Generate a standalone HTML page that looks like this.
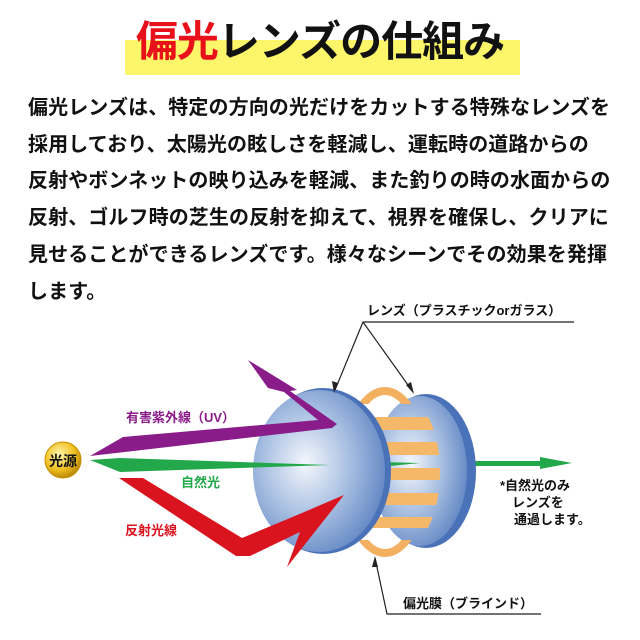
<!DOCTYPE html>
<html><head><meta charset="utf-8"><style>
html,body{margin:0;padding:0;background:#fff;}
body{width:640px;height:640px;position:relative;overflow:hidden;font-family:"Liberation Sans","Noto Sans CJK JP",sans-serif;}
.bar{position:absolute;left:125px;top:40px;width:395px;height:35px;background:#fdf66a;}
.title{position:absolute;left:0;width:640px;top:14px;text-align:center;font-size:42px;font-weight:bold;line-height:56px;color:#111;letter-spacing:-1px;}
.title span{color:#e8101a;}
.body{position:absolute;left:28px;top:90px;font-size:20px;font-weight:bold;line-height:36.7px;color:#111;white-space:nowrap;letter-spacing:0.1px;}
svg{position:absolute;left:0;top:0;}
</style></head><body>
<div class="bar"></div>
<div class="title"><span>偏光</span>レンズの仕組み</div>
<div class="body">偏光レンズは、特定の方向の光だけをカットする特殊なレンズを<br>採用しており、太陽光の眩しさを軽減し、運転時の道路からの<br>反射やボンネットの映り込みを軽減、また釣りの時の水面からの<br>反射、ゴルフ時の芝生の反射を抑えて、視界を確保し、クリアに<br>見せることができるレンズです。様々なシーンでその効果を発揮<br>します。</div>
<svg width="640" height="640" viewBox="0 0 640 640">
<defs>
<radialGradient id="lens" cx="0.4" cy="0.45" r="0.65">
<stop offset="0" stop-color="#f4f7fc"/><stop offset="0.5" stop-color="#a9c0e2"/><stop offset="1" stop-color="#5d83c2"/></radialGradient>
<radialGradient id="gold" cx="0.4" cy="0.35" r="0.7">
<stop offset="0" stop-color="#fff6b0"/><stop offset="0.6" stop-color="#f0c020"/><stop offset="1" stop-color="#b07d00"/></radialGradient>
<clipPath id="film"><ellipse cx="400" cy="472" rx="40" ry="78"/></clipPath>
<clipPath id="ends"><rect x="0" y="380" width="640" height="24"/><rect x="0" y="540" width="640" height="30"/></clipPath>
</defs>
<polygon points="470,461 540,461 540,457 572,463 540,469 540,466 470,466" fill="#22a84a"/>
<ellipse cx="426" cy="471" rx="50" ry="77" fill="#4a72b8"/>
<ellipse cx="420" cy="471" rx="47" ry="75" fill="url(#lens)"/>
<polygon points="380,462 420,463 380,467" fill="#22a84a"/>
<ellipse cx="385" cy="472" rx="40" ry="81" fill="none" stroke="#f2b060" stroke-width="8" clip-path="url(#ends)"/>
<g clip-path="url(#film)">
<g fill="#f5b868">
<rect x="360" y="417" width="80" height="13"/>
<rect x="360" y="442" width="80" height="13"/>
<rect x="360" y="468" width="80" height="12"/>
<rect x="360" y="493" width="80" height="12"/>
<rect x="360" y="517" width="80" height="11"/>
</g>
</g>
<ellipse cx="323" cy="471" rx="68" ry="83" fill="#4a72b8"/>
<ellipse cx="319" cy="471" rx="66" ry="81" fill="url(#lens)"/>
<polygon points="90,456 123,437 318,420 284,392 268,388 248,360 297,390 290,391 337,424 332,428" fill="#8a1c8a"/>
<polygon points="90,460 120,458 330,465 120,472" fill="#22a84a"/>
<polygon points="119,478 143,478 242,538 302,513 344,495 287,567 300,532 250,556 236,556" fill="#d9141e"/>
<circle cx="63" cy="460" r="18" fill="url(#gold)" stroke="#c89000"/>
<text x="63" y="466" font-size="14" font-weight="bold" text-anchor="middle" fill="#111" font-family="Liberation Sans,Noto Sans CJK JP,sans-serif">光源</text>
<g font-family="Liberation Sans,Noto Sans CJK JP,sans-serif" font-weight="bold" font-size="13">
<text x="126" y="422" fill="#8a1c8a">有害紫外線（UV）</text>
<text x="181" y="487" fill="#22a84a">自然光</text>
<text x="125" y="535" fill="#d9141e">反射光線</text>
<text x="500" y="490" fill="#111">*自然光のみ</text>
<text x="512" y="507" fill="#111">レンズを</text>
<text x="514" y="524" fill="#111">通過します。</text>
<text x="367" y="315" fill="#111">レンズ（プラスチックorガラス）</text>
<text x="403" y="608" fill="#111">偏光膜（ブラインド）</text>
</g>
<g stroke="#222" stroke-width="1.2" fill="none">
<polyline points="574,322 363,322 335,390"/>
<line x1="363" y1="322" x2="413" y2="392"/>
<polyline points="541,614 387,614 375,558"/>
</g>
<g fill="#222">
<polygon points="334,393 332,381 338,383"/>
<polygon points="414,394 406,385 411,382"/>
<polygon points="375,556 372,567 378,567"/>
</g>
</svg>
</body></html>
